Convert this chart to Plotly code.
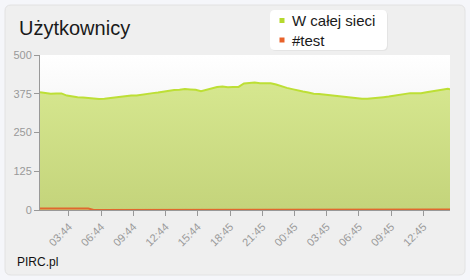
import plotly.graph_objects as go
import pandas as pd

# ---- data ----
start_time = "2013-05-10 01:02"
step_minutes = 30
end_time = "2013-05-11 15:14"

network_users = [380, 377, 375, 376, 376, 369, 366, 364, 363, 361,
                 359, 358, 359, 361, 362, 364, 368, 369, 369, 372,
                 376, 377, 379, 382, 385, 387, 388, 390, 389, 388,
                 383, 387, 392, 397, 398, 396, 397, 397, 408, 410,
                 411, 409, 408, 409, 405, 399, 394, 390, 385, 382,
                 379, 375, 374, 372, 370, 369, 367, 365, 363, 361,
                 359, 359, 360, 362, 364, 366, 369, 371, 374, 377,
                 377, 377, 380, 383, 385, 387, 391, 387]
test_users = [5, 5, 5, 5, 5, 5, 5, 5, 5, 5,
              0, 0, 0, 0, 0] + [2] * 63

tick_times = ["2013-05-10 03:44", "2013-05-10 06:44", "2013-05-10 09:44",
              "2013-05-10 12:44", "2013-05-10 15:44", "2013-05-10 18:45",
              "2013-05-10 21:45", "2013-05-11 00:45", "2013-05-11 03:45",
              "2013-05-11 06:45", "2013-05-11 09:45", "2013-05-11 12:45"]
tick_labels = ["03:44", "06:44", "09:44", "12:44", "15:44", "18:45",
               "21:45", "00:45", "03:45", "06:45", "09:45", "12:45"]
y_ticks = [0, 125, 250, 375, 500]

series_names = ["W całej sieci", "#test"]
series_colors = ["#b5d92e", "#e8622a"]

times = pd.date_range(start_time, periods=len(network_users), freq=f"{step_minutes}min")

# ---- layout geometry (px) ----
W, H = 470, 280
L, R, T, B = 40, 20, 55, 70
pw, ph = W - L - R, H - T - B

def px_x(x):
    return (x - L) / pw

def px_y(y):
    return (H - B - y) / ph

def rounded_rect(xa, ya, xb, yb, r):
    x0, x1 = px_x(xa), px_x(xb)
    y0, y1 = px_y(yb), px_y(ya)
    rx, ry = r / pw, r / ph
    return (f"M {x0+rx},{y1} L {x1-rx},{y1} Q {x1},{y1} {x1},{y1-ry} "
            f"L {x1},{y0+ry} Q {x1},{y0} {x1-rx},{y0} L {x0+rx},{y0} "
            f"Q {x0},{y0} {x0},{y0+ry} L {x0},{y1-ry} Q {x0},{y1} {x0+rx},{y1} Z")

green_line = "#bddf35"
orange = "#e0682e"
card = "#efefef"
font = "Liberation Sans, Arial, sans-serif"

fig = go.Figure()

# plot-area background gradient
fig.add_trace(go.Scatter(
    x=[pd.Timestamp(start_time), pd.Timestamp(end_time)], y=[500, 500],
    mode="lines", line=dict(width=0), fill="tozeroy",
    fillgradient=dict(type="vertical", start=0, stop=500,
                      colorscale=[[0, "#e6e6e6"], [1, "#ffffff"]]),
    hoverinfo="skip", showlegend=False))

fig.add_trace(go.Scatter(
    x=times, y=network_users, mode="lines", name=series_names[0],
    line=dict(color=green_line, width=2), fill="tozeroy",
    fillgradient=dict(type="vertical", start=0, stop=410,
                      colorscale=[[0, "#c4d47b"], [1, "#d6e78f"]]),
    showlegend=False))

fig.add_trace(go.Scatter(
    x=times, y=test_users, mode="lines", name=series_names[1],
    line=dict(color=orange, width=2), showlegend=False))

shapes = [
    dict(type="path", xref="paper", yref="paper", path=rounded_rect(5, 5, 465, 275, 6),
         fillcolor=card, line=dict(color="#e2e2e2", width=1), layer="below"),
    # legend box with soft shadow
    dict(type="path", xref="paper", yref="paper", path=rounded_rect(271, 11, 388, 51, 5),
         fillcolor="#e4e4e4", line=dict(width=0), layer="above"),
    dict(type="path", xref="paper", yref="paper", path=rounded_rect(270, 10, 387, 50, 5),
         fillcolor="#ffffff", line=dict(width=0), layer="above"),
]
annotations = [
    dict(text="Użytkownicy", xref="paper", yref="paper",
         x=px_x(17), y=px_y(28), xanchor="left", yanchor="middle",
         showarrow=False, font=dict(size=20, color="#1a1a1a", family=font)),
    dict(text="PIRC.pl", xref="paper", yref="paper",
         x=px_x(15), y=px_y(262), xanchor="left", yanchor="middle",
         showarrow=False, font=dict(size=12, color="#111111", family=font)),
]
for i, (name, col) in enumerate(zip(series_names, series_colors)):
    cy = 20.5 + i * 19.5
    shapes.append(dict(type="rect", xref="paper", yref="paper",
                       x0=px_x(279.5), x1=px_x(284.5), y0=px_y(cy + 2.5), y1=px_y(cy - 2.5),
                       fillcolor=col, line=dict(width=0), layer="above"))
    annotations.append(dict(text=name, xref="paper", yref="paper",
                            x=px_x(290), y=px_y(cy), xanchor="left", yanchor="middle",
                            showarrow=False,
                            font=dict(size=15, color="#1a1a1a", family=font)))

fig.update_layout(
    width=W, height=H,
    margin=dict(l=L, r=R, t=T, b=B),
    paper_bgcolor="#f5f6fa",
    plot_bgcolor=card,
    font=dict(family=font, color="#999999", size=11),
    shapes=shapes,
    annotations=annotations,
    showlegend=False,
    xaxis=dict(type="date", range=[pd.Timestamp(start_time), pd.Timestamp(end_time)],
               tickvals=pd.to_datetime(tick_times), ticktext=tick_labels,
               tickangle=-45, ticks="outside", ticklen=5, tickcolor="#999999",
               showline=True, linecolor="#999999", linewidth=1,
               showgrid=False, zeroline=False, fixedrange=True),
    yaxis=dict(range=[0, 500], tickvals=y_ticks, ticks="outside", ticklen=5,
               tickcolor="#999999", showline=True, linecolor="#999999", linewidth=1,
               showgrid=False, zeroline=False, fixedrange=True),
    hovermode=False,
)

fig.write_html("out.html")
